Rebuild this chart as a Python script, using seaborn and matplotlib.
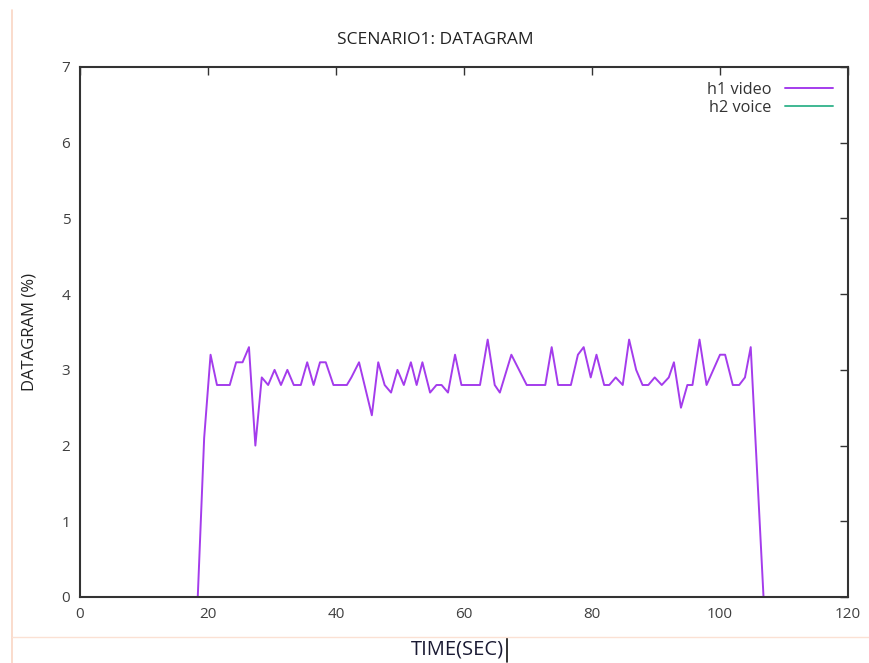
import matplotlib
matplotlib.use("Agg")
import matplotlib.pyplot as plt
from matplotlib.lines import Line2D
import pandas as pd
import seaborn as sns

# h1 video: time (s) and datagram (%)
video_time = [0, 18.4, 19.4, 20.4, 21.4, 23.4, 24.4, 25.4, 26.4, 27.4, 28.4, 29.4,
              30.4, 31.4, 32.4, 33.4, 34.5, 35.5, 36.5, 37.5, 38.4, 39.6, 41.7, 42.4,
              43.6, 45.6, 46.6, 47.6, 48.6, 49.6, 50.6, 51.7, 52.6, 53.5, 54.7, 55.7,
              56.5, 57.5, 58.6, 59.6, 62.5, 63.7, 64.8, 65.6, 67.4, 69.8, 72.7, 73.7,
              74.7, 76.7, 77.8, 78.7, 79.8, 80.7, 81.9, 82.7, 83.7, 84.8, 85.8, 86.9,
              87.9, 88.8, 89.8, 90.9, 92.0, 92.8, 93.9, 94.9, 95.7, 96.8, 97.9, 100.0,
              100.8, 102.0, 103.0, 103.9, 104.8, 106.8, 120]
video_pct = [0, 0, 2.1, 3.2, 2.8, 2.8, 3.1, 3.1, 3.3, 2.0, 2.9, 2.8,
             3.0, 2.8, 3.0, 2.8, 2.8, 3.1, 2.8, 3.1, 3.1, 2.8, 2.8, 2.9,
             3.1, 2.4, 3.1, 2.8, 2.7, 3.0, 2.8, 3.1, 2.8, 3.1, 2.7, 2.8,
             2.8, 2.7, 3.2, 2.8, 2.8, 3.4, 2.8, 2.7, 3.2, 2.8, 2.8, 3.3,
             2.8, 2.8, 3.2, 3.3, 2.9, 3.2, 2.8, 2.8, 2.9, 2.8, 3.4, 3.0,
             2.8, 2.8, 2.9, 2.8, 2.9, 3.1, 2.5, 2.8, 2.8, 3.4, 2.8, 3.2,
             3.2, 2.8, 2.8, 2.9, 3.3, 0, 0]

# h2 voice: flat at zero
voice_time = [0, 120]
voice_pct = [0, 0]

x_ticks = [0, 20, 40, 60, 80, 100, 120]
y_ticks = [0, 1, 2, 3, 4, 5, 6, 7]

sns.set_style("white")
plt.rcParams['font.family'] = ['Open Sans', 'DejaVu Sans']

df_video = pd.DataFrame({"t": video_time, "v": video_pct})
df_voice = pd.DataFrame({"t": voice_time, "v": voice_pct})

fig = plt.figure(figsize=(8.7, 6.63), dpi=100)
ax = fig.add_axes([80 / 870, 1 - 597 / 663, (848 - 80) / 870, (597 - 67) / 663])

sns.lineplot(data=df_video, x="t", y="v", ax=ax, color="#a43cec", linewidth=1.4,
             estimator=None, label="h1 video")
sns.lineplot(data=df_voice, x="t", y="v", ax=ax, color="#3fb893", linewidth=1.4,
             estimator=None, label="h2 voice")

ax.set_xlim(0, 120)
ax.set_ylim(0, 7)
ax.set_xticks(x_ticks)
ax.set_yticks(y_ticks)
ax.tick_params(direction="in", length=6, width=1, color="#333333",
               top=True, right=True, labelsize=11, labelcolor="#404040", pad=7)
for s in ax.spines.values():
    s.set_color("#333333")
    s.set_linewidth(1.5)
ax.set_xlabel("")
ax.set_ylabel("")

leg = ax.legend(loc="upper right", frameon=False, markerfirst=False, fontsize=11.7,
                handlelength=3.0, handletextpad=0.8, labelspacing=0.15,
                borderaxespad=0.5)
for t in leg.get_texts():
    t.set_color("#333333")

fig.text(0.5, 1 - 40 / 663, "SCENARIO1: DATAGRAM", ha="center", va="center",
         fontsize=12.5, color="#222222")
fig.text(30 / 870, 1 - 332 / 663, "DATAGRAM (%)", rotation=90, ha="center",
         va="center", fontsize=12, color="#222222")
fig.text(457 / 870, 1 - 650 / 663, "TIME(SEC)", ha="center", va="center",
         fontsize=14.5, color="#1a1a33")

# page artefacts: text cursor and faint page borders
fig.add_artist(Line2D([507 / 870, 507 / 870], [1 - 662 / 663, 1 - 638 / 663],
                      color="#111111", linewidth=1.2))
fig.add_artist(Line2D([12 / 870, 12 / 870], [0, 1 - 10 / 663],
                      color="#f9d6c4", linewidth=1.2))
fig.add_artist(Line2D([12 / 870, 1], [1 - 637 / 663, 1 - 637 / 663],
                      color="#fbe1d4", linewidth=1.0))

fig.savefig("out.png", dpi=100)
